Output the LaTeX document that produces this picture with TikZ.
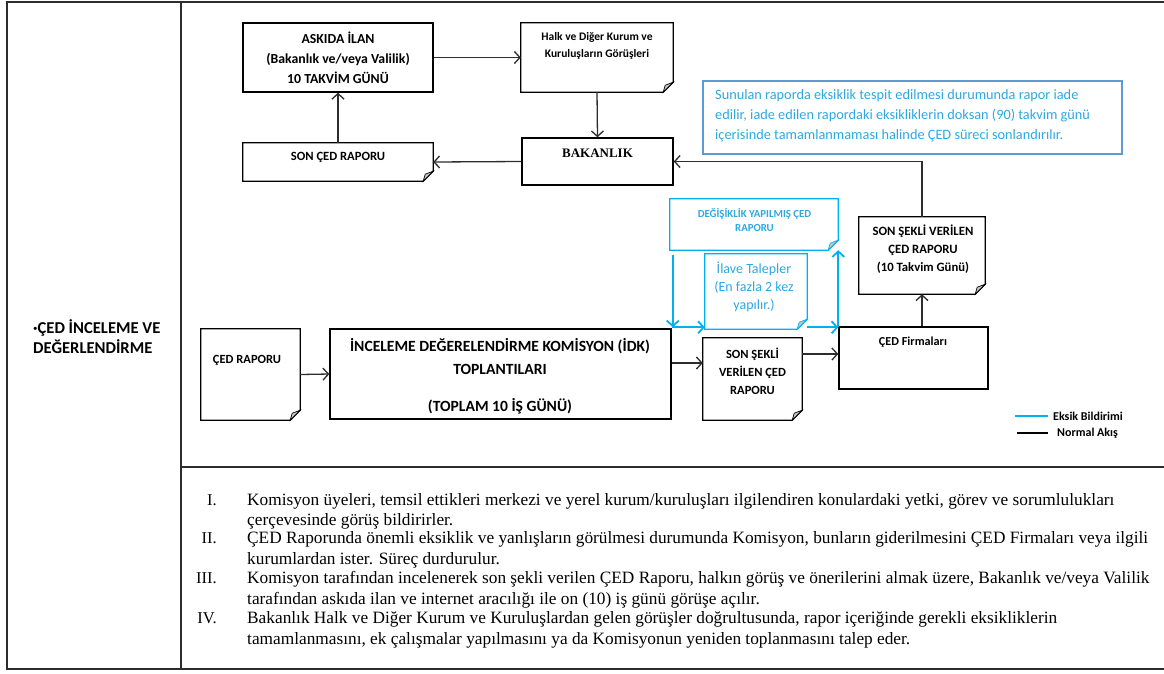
\documentclass[tikz,border=0pt]{standalone}
\usepackage{fontspec}
\setmainfont{Liberation Serif}
\newfontfamily\calfnt{Carlito}
\usetikzlibrary{arrows.meta,calc}
\definecolor{ebl}{RGB}{0,176,240}
\definecolor{nbl}{RGB}{91,155,213}
\definecolor{ntx}{RGB}{45,168,225}
\definecolor{ln}{RGB}{45,45,45}
\newcommand\docout[2]{%
  \draw[#2, line width=1.3pt, line join=miter] (#1.north west) -- (#1.north east) -- ($(#1.south east)+(0,-10)$) -- ($(#1.south east)+(-10,0)$) -- (#1.south west) -- cycle;
  \filldraw[#2, fill=gray!45, line width=0.7pt] ($(#1.south east)+(0,-10)$) -- ($(#1.south east)+(-10,0)$) -- ($(#1.south east)+(-8,-7)$) -- cycle;}
\tikzset{
  box/.style={draw=black, line width=1.4pt, inner sep=0pt},
  dbox/.style={inner sep=0pt},
  conn/.style={draw=ln, line width=1.3pt, -{Straight Barb[length=5.5pt,width=12pt,line width=1.3pt]}},
  bconn/.style={draw=ebl, line width=1.8pt, -{Straight Barb[length=5.5pt,width=12pt,line width=1.8pt]}},
  lbl/.style={font=\calfnt\bfseries, inner sep=0pt, align=center},
  frame/.style={draw=ln, line width=1.8pt},
  body/.style={font=\fontsize{17.3}{20}\selectfont, inner sep=0pt, anchor=base west},
  num/.style={font=\fontsize{16.5}{20}\selectfont, inner sep=0pt, anchor=base east}
}
\begin{document}
\begin{tikzpicture}[x=1pt,y=-1pt]
\useasboundingbox (0,0) rectangle (1164,673);
% frame
\coordinate (fTL) at (7,2); \coordinate (fTR) at (1164,2);
\coordinate (fBL) at (7,669); \coordinate (fBR) at (1164,669);
\coordinate (dT) at (181,2); \coordinate (dB) at (181,669);
\coordinate (hL) at (181,467); \coordinate (hR) at (1164,467);
\draw[frame] (fTR) -- (fTL) -- (fBL) -- (fBR);
\draw[frame] (dT) -- (dB);
\draw[frame] (hL) -- (hR);

% left label
\node[lbl, anchor=west, align=left, font=\calfnt\bfseries\fontsize{16.6}{20}\selectfont] (side) at (33,337) {·ÇED İNCELEME VE\\DEĞERLENDİRME};

% boxes
\node[box, minimum width=190pt, minimum height=69pt] (askida) at (338,57.5) {};
\node[dbox, minimum width=152pt, minimum height=69pt] (halk) at (597,57.5) {};
\node[dbox, minimum width=190pt, minimum height=38pt] (son) at (338,162) {};
\node[box, minimum width=151pt, minimum height=47pt] (bak) at (597.5,161.5) {};
\node[draw=nbl, line width=1.3pt, inner sep=0pt, minimum width=419pt, minimum height=73pt] (note) at (912.5,117.5) {};
\node[dbox, minimum width=168pt, minimum height=51pt] (degis) at (754,224.5) {};
\node[dbox, minimum width=102pt, minimum height=75pt] (ilave) at (756,291.5) {};
\node[dbox, minimum width=126pt, minimum height=77pt] (sson10) at (922,255.5) {};
\node[box, minimum width=149pt, minimum height=62pt] (firma) at (913.5,358) {};
\node[dbox, minimum width=99pt, minimum height=82pt] (ssmall) at (752.5,379) {};
\node[dbox, minimum width=99pt, minimum height=91pt] (cedr) at (250.5,374.5) {};
\node[box, minimum width=341pt, minimum height=90pt] (idk) at (500.5,374) {};

\docout{halk}{black}
\docout{son}{black}
\docout{sson10}{black}
\docout{ssmall}{black}
\docout{cedr}{black}
\docout{degis}{ebl}
\docout{ilave}{ebl}

% texts
\node[lbl, font=\calfnt\bfseries\fontsize{13.8}{20}\selectfont] (taskida) at (338,58) {ASKIDA İLAN\\(Bakanlık ve/veya Valilik)\\10 TAKVİM GÜNÜ};
\node[lbl, font=\calfnt\bfseries\fontsize{11.5}{17}\selectfont] (thalk) at (597,45.5) {Halk ve Diğer Kurum ve\\Kuruluşların Görüşleri};
\node[lbl, font=\calfnt\bfseries\fontsize{12.6}{14}\selectfont] (tson) at (338,157) {SON ÇED RAPORU};
\node[lbl, font=\bfseries\fontsize{13}{15}\selectfont] (tbak) at (597.5,153) {BAKANLIK};
\node[inner sep=0pt, align=left, anchor=west, text=ntx, font=\calfnt\fontsize{14.3}{20}\selectfont] (tnote) at (715,116) {Sunulan raporda eksiklik tespit edilmesi durumunda rapor iade\\edilir, iade edilen rapordaki eksikliklerin doksan (90) takvim günü\\içerisinde tamamlanmaması halinde ÇED süreci sonlandırılır.};
\node[lbl, text=ntx, font=\calfnt\bfseries\fontsize{10.8}{14}\selectfont] (tdegis) at (754.5,220) {DEĞİŞİKLİK YAPILMIŞ ÇED\\RAPORU};
\node[inner sep=0pt, align=center, text=ntx, font=\calfnt\fontsize{14}{18}\selectfont] (tilave) at (754,287) {İlave Talepler\\(En fazla 2 kez\\yapılır.)};
\node[lbl, font=\calfnt\bfseries\fontsize{12.7}{18}\selectfont] (tsson10) at (923,249) {SON ŞEKLİ VERİLEN\\ÇED RAPORU\\(10 Takvim Günü)};
\node[lbl, font=\calfnt\bfseries\fontsize{12.2}{14}\selectfont] (tfirma) at (913,342) {ÇED Firmaları};
\node[lbl, font=\calfnt\bfseries\fontsize{12.5}{18}\selectfont] (tssmall) at (752.5,371) {SON ŞEKLİ\\VERİLEN ÇED\\RAPORU};
\node[lbl, font=\calfnt\bfseries\fontsize{12.5}{14}\selectfont] (tcedr) at (247,360) {ÇED RAPORU};
\node[lbl, font=\calfnt\bfseries\fontsize{15.6}{23}\selectfont] (tidk1) at (500,356.5) {İNCELEME DEĞERELENDİRME KOMİSYON (İDK)\\TOPLANTILARI};
\node[lbl, font=\calfnt\bfseries\fontsize{15.6}{17}\selectfont] (tidk2) at (500,406) {(TOPLAM 10 İŞ GÜNÜ)};

% black connectors
\draw[conn] (askida.east) -- (halk.west);
\draw[conn] (son.north) -- (askida.south);
\draw[conn] (halk.south) -- (bak.north);
\draw[conn] (bak.west) -- (son.east);
\draw[conn] (sson10.north) |- (bak.east);
\draw[conn] (firma.north -| sson10.south) -- (sson10.south);
\draw[conn] (cedr.east) -- (idk.west);
\coordinate (idkOut) at ([yshift=11pt]idk.east);
\draw[conn] (idkOut) -- (idkOut -| ssmall.west);
\coordinate (firmaIn) at ([yshift=4pt]firma.west);
\draw[conn] (firmaIn -| ssmall.east) -- (firmaIn);

% blue connectors
\coordinate (bY) at ([yshift=1pt]idk.north east);
\draw[bconn] (bY) -- (bY -| ilave.west);
\draw[bconn] (ilave.south east |- bY) -- (bY -| firma.west);
\draw[bconn] (bY -| firma.west) -- (firma.west |- degis.south);
\coordinate (dS) at ($(degis.south west)+(3,5)$);
\draw[bconn] (dS) -- (dS |- bY);

% legend
\coordinate (l1a) at (1015,416); \coordinate (l1b) at (1048,416);
\coordinate (l2a) at (1017,433); \coordinate (l2b) at (1048,433);
\draw[draw=ebl, line width=2.5pt] (l1a) -- (l1b);
\draw[draw=black, line width=2.5pt] (l2a) -- (l2b);
\node[lbl, anchor=west, font=\calfnt\bfseries\fontsize{12}{14}\selectfont] (leg1) at (1053,416) {Eksik Bildirimi};
\node[lbl, anchor=west, font=\calfnt\bfseries\fontsize{12}{14}\selectfont] (leg2) at (1057,433) {Normal Akış};

% bottom list
\node[num] (n1) at (217,505) {I.};
\node[body] (b1a) at (247,505) {Komisyon üyeleri, temsil ettikleri merkezi ve yerel kurum/kuruluşları ilgilendiren konulardaki yetki, görev ve sorumlulukları};
\node[body] (b1b) at (247,525) {çerçevesinde görüş bildirirler.};
\node[num] (n2) at (217,543) {II.};
\node[body] (b2a) at (247,543) {ÇED Raporunda önemli eksiklik ve yanlışların görülmesi durumunda Komisyon, bunların giderilmesini ÇED Firmaları veya ilgili};
\node[body] (b2b) at (247,564) {kurumlardan ister. Süreç durdurulur.};
\node[num] (n3) at (217,583) {III.};
\node[body] (b3a) at (247,583) {Komisyon tarafından incelenerek son şekli verilen ÇED Raporu, halkın görüş ve önerilerini almak üzere, Bakanlık ve/veya Valilik};
\node[body] (b3b) at (247,604) {tarafından askıda ilan ve internet aracılığı ile on (10) iş günü görüşe açılır.};
\node[num] (n4) at (217,623) {IV.};
\node[body] (b4a) at (247,623) {Bakanlık Halk ve Diğer Kurum ve Kuruluşlardan gelen görüşler doğrultusunda, rapor içeriğinde gerekli eksikliklerin};
\node[body] (b4b) at (247,644) {tamamlanmasını, ek çalışmalar yapılmasını ya da Komisyonun yeniden toplanmasını talep eder.};
\end{tikzpicture}
\end{document}
